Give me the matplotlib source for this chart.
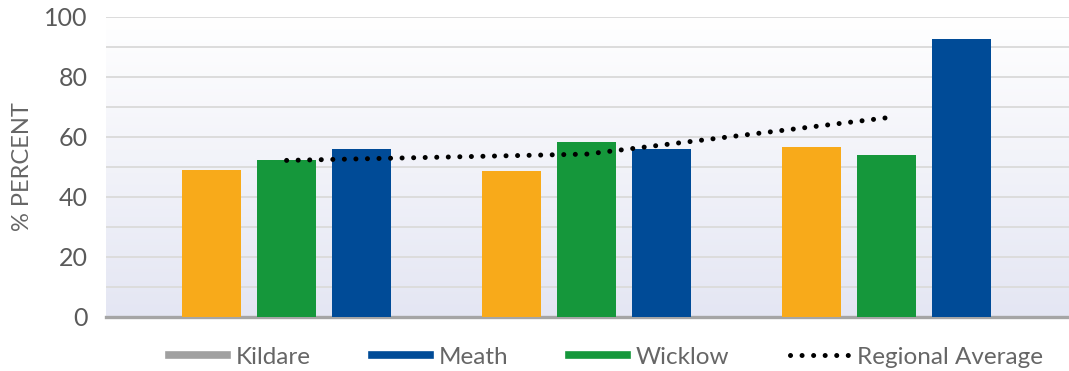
import numpy as np
import matplotlib.pyplot as plt
from matplotlib.lines import Line2D

# data
groups = [0, 1, 2]
kildare = [0, 0, 0]
other = [49.0, 48.7, 56.7]      # orange series, not in legend
wicklow = [52.3, 58.3, 54.0]
meath = [56.0, 56.0, 92.7]
regional_avg = [52.2, 54.3, 66.4]
yticks = [0, 20, 40, 60, 80, 100]

plt.rcParams['font.family'] = ['Lato', 'DejaVu Sans']

fig = plt.figure(figsize=(10.69, 3.71), dpi=100)
ax = fig.add_axes([105.7 / 1069, 1 - 317 / 371, 1 - 105.7 / 1069, 300 / 371])

# soft vertical gradient behind the plot
grad = np.linspace(0, 1, 256).reshape(-1, 1)
top = np.array([1.0, 1.0, 1.0])
bot = np.array([0xe4, 0xe6, 0xf3]) / 255
img = top + (bot - top) * grad[..., None]
ax.imshow(img, extent=[0, 1, 0, 1], transform=ax.transAxes, aspect='auto', zorder=0)

x = np.array(groups, dtype=float)
w = 0.197
ax.bar(x - 0.5, kildare, w, color='#a0a0a0', zorder=3)
ax.bar(x - 0.25, other, w, color='#f8aa1a', zorder=3)
ax.bar(x, wicklow, w, color='#15973b', zorder=3)
ax.bar(x + 0.25, meath, w, color='#004b97', zorder=3)

dots = (0, (0.01, 2.3))
ax.plot(x, regional_avg, color='black', lw=3.6, linestyle=dots,
        dash_capstyle='round', zorder=4)

ax.set_xlim(-0.603, 2.608)
ax.set_ylim(0, 100)
ax.set_yticks(yticks)
ax.set_yticks(np.arange(10, 100, 20), minor=True)
ax.grid(axis='y', which='both', color='#dcdcdc', lw=1.4, zorder=1)
ax.set_axisbelow(True)
ax.set_xticks([])
ax.tick_params(axis='y', which='both', length=0, pad=13, labelsize=18, labelcolor='#5a5a5a')
for s in ['top', 'right', 'left']:
    ax.spines[s].set_visible(False)
ax.spines['bottom'].set_color('#a5a5a5')
ax.spines['bottom'].set_linewidth(2.4)
ax.spines['bottom'].set_zorder(2)

ax.set_ylabel('% PERCENT', fontsize=17, color='#666666', labelpad=8)

handles = [
    Line2D([], [], color='#a0a0a0', lw=5.5),
    Line2D([], [], color='#004b97', lw=5.5),
    Line2D([], [], color='#15973b', lw=5.5),
    Line2D([], [], color='black', lw=3.6, linestyle=dots, dash_capstyle='round'),
]
labels = ['Kildare', 'Meath', 'Wicklow', 'Regional Average']
leg = fig.legend(handles, labels, loc='center', bbox_to_anchor=(606 / 1069, 1 - 357 / 371),
                 ncol=4, frameon=False, fontsize=17.5, handlelength=2.4, handletextpad=0.35,
                 columnspacing=2.5, labelcolor='#666666')

fig.savefig('out.png', dpi=100)
